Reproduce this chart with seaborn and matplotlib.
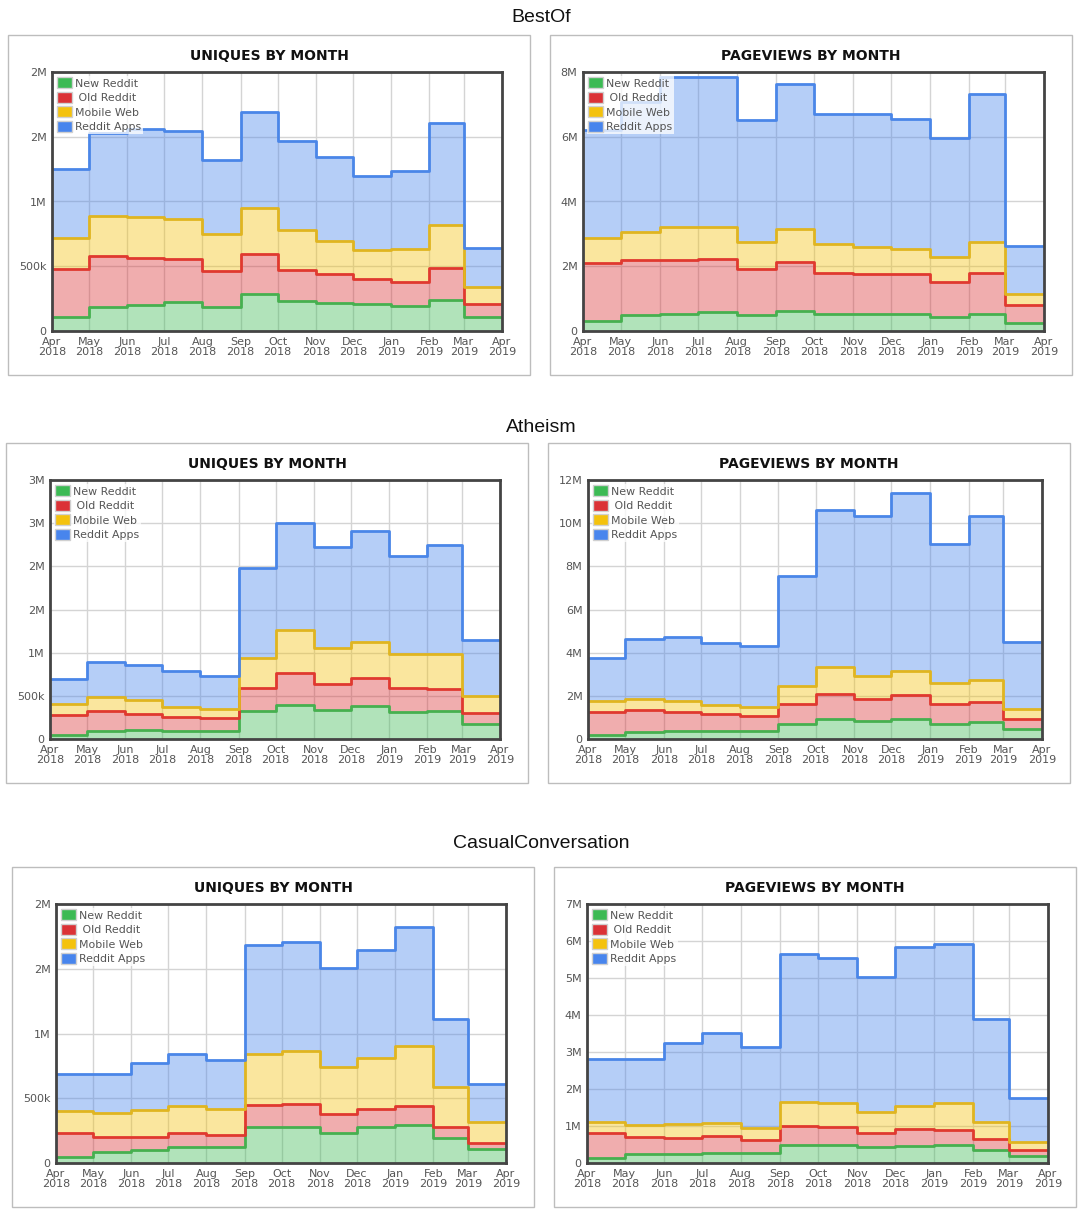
import numpy as np
import pandas as pd
import matplotlib
matplotlib.use("Agg")
import matplotlib.pyplot as plt
import matplotlib.dates as mdates
from matplotlib.patches import Patch, Rectangle
from matplotlib.ticker import FuncFormatter, MultipleLocator
import seaborn as sns

sns.set_style("white")
plt.rcParams['font.family'] = ['DejaVu Sans']

# months (Apr 2018 .. Mar 2019), values per device
months = pd.date_range("2018-04-01", "2019-03-01", freq="MS")
devices = ["New Reddit", " Old Reddit", "Mobile Web", "Reddit Apps"]

# BestOf - uniques (thousands)
bestof_u_new = [108, 186, 201, 227, 188, 284, 229, 219, 206, 193, 240, 108]
bestof_u_old = [371, 394, 361, 330, 278, 311, 240, 219, 196, 186, 247, 98]
bestof_u_mob = [237, 307, 319, 309, 284, 353, 312, 260, 224, 252, 333, 134]
bestof_u_app = [537, 641, 678, 678, 570, 745, 685, 642, 572, 606, 788, 299]
# BestOf - pageviews (millions)
bestof_p_new = [0.32, 0.48, 0.52, 0.58, 0.49, 0.63, 0.54, 0.51, 0.51, 0.43, 0.53, 0.25]
bestof_p_old = [1.78, 1.70, 1.68, 1.65, 1.42, 1.50, 1.25, 1.24, 1.24, 1.09, 1.25, 0.54]
bestof_p_mob = [0.76, 0.88, 1.01, 0.97, 0.85, 1.03, 0.91, 0.85, 0.79, 0.78, 0.96, 0.36]
bestof_p_app = [3.36, 4.00, 4.65, 4.64, 3.77, 4.48, 4.01, 4.11, 4.01, 3.66, 4.58, 1.48]

# Atheism - uniques (thousands)
atheism_u_new = [46, 89, 100, 97, 97, 320, 398, 340, 382, 313, 320, 170]
atheism_u_old = [228, 239, 190, 162, 150, 267, 366, 293, 321, 274, 259, 127]
atheism_u_mob = [135, 162, 162, 112, 104, 355, 499, 417, 421, 394, 406, 201]
atheism_u_app = [286, 402, 401, 421, 375, 1035, 1239, 1170, 1285, 1143, 1266, 653]
# Atheism - pageviews (millions)
atheism_p_new = [0.19, 0.34, 0.36, 0.39, 0.37, 0.71, 0.93, 0.82, 0.93, 0.71, 0.79, 0.45]
atheism_p_old = [1.06, 1.00, 0.88, 0.75, 0.71, 0.90, 1.14, 1.03, 1.11, 0.91, 0.94, 0.46]
atheism_p_mob = [0.51, 0.51, 0.54, 0.42, 0.40, 0.83, 1.25, 1.07, 1.13, 0.96, 1.02, 0.48]
atheism_p_app = [2.01, 2.77, 2.95, 2.91, 2.85, 5.13, 7.30, 7.40, 8.21, 6.46, 7.60, 3.12]

# CasualConversation - uniques (thousands)
casual_u_new = [49, 85, 98, 121, 126, 275, 278, 234, 275, 290, 193, 111]
casual_u_old = [182, 113, 102, 110, 87, 170, 174, 141, 144, 152, 82, 46]
casual_u_mob = [173, 190, 209, 211, 201, 398, 412, 365, 391, 458, 309, 159]
casual_u_app = [285, 298, 362, 399, 383, 838, 840, 764, 833, 920, 527, 296]
# CasualConversation - pageviews (millions)
casual_p_new = [0.14, 0.23, 0.23, 0.28, 0.26, 0.48, 0.48, 0.42, 0.46, 0.49, 0.35, 0.19]
casual_p_old = [0.66, 0.46, 0.45, 0.45, 0.35, 0.52, 0.50, 0.40, 0.45, 0.40, 0.31, 0.15]
casual_p_mob = [0.31, 0.34, 0.37, 0.36, 0.34, 0.65, 0.65, 0.56, 0.62, 0.73, 0.45, 0.22]
casual_p_app = [1.70, 1.78, 2.20, 2.42, 2.18, 4.01, 3.90, 3.66, 4.31, 4.29, 2.79, 1.19]

colors = ["#3cba54", "#db3236", "#f4c20d", "#4885ed"]
line_colors = ["#46b04f", "#e0392f", "#e0b520", "#4a86e8"]

W, H = 1083, 1212
fig = plt.figure(figsize=(W / 100, H / 100), dpi=100)


def yfmt(v, pos):
    if v >= 1e6:
        return f"{int(np.floor(v / 1e6 + 0.5))}M"
    if v >= 1e3:
        return f"{int(round(v / 1e3))}k"
    return "0"


def panel(box, left_off, title, series, scale, ymax, ystep):
    bx0, by0, bx1, by1 = box
    fig.add_artist(Rectangle((bx0 / W, 1 - by1 / H), (bx1 - bx0) / W, (by1 - by0) / H,
                             transform=fig.transFigure, fill=False, ec="#bdbdbd", lw=1))
    fig.text((bx0 + bx1) / 2 / W, 1 - (by0 + 21) / H, title, ha="center", va="center",
             fontsize=10, fontweight="bold", color="#111")
    x0, x1 = bx0 + left_off, bx0 + 494
    y0, y1 = by0 + 37, by0 + 296
    ax = fig.add_axes([x0 / W, 1 - y1 / H, (x1 - x0) / W, (y1 - y0) / H])

    df = pd.DataFrame({d: np.array(s) * scale for d, s in zip(devices, series)}, index=months)
    tops = df.cumsum(axis=1)
    # repeat last month so the step reaches Apr 2019
    edge = pd.Timestamp("2019-04-01")
    tops.loc[edge] = tops.iloc[-1]
    lower = np.zeros(len(tops))
    for i, d in enumerate(devices):
        upper = tops[d].values
        ax.fill_between(tops.index, lower, upper, step="post", color=colors[i],
                        alpha=0.4, lw=0, zorder=2)
        lower = upper
    for i, d in enumerate(devices):
        sns.lineplot(x=tops.index, y=tops[d].values, drawstyle="steps-post",
                     color=line_colors[i], lw=2, ax=ax, zorder=3 + i, legend=False)

    ax.set_xlim(months[0], edge)
    ax.set_ylim(0, ymax)
    ax.yaxis.set_major_locator(MultipleLocator(ystep))
    ax.yaxis.set_major_formatter(FuncFormatter(yfmt))
    ax.xaxis.set_major_locator(mdates.MonthLocator())
    ax.xaxis.set_major_formatter(mdates.DateFormatter("%b\n%Y"))
    ax.grid(True, color="#d4d4d4", lw=1, zorder=0)
    ax.set_axisbelow(True)
    ax.tick_params(length=0, labelsize=8, labelcolor="#555", pad=4)
    ax.set_xlabel("")
    ax.set_ylabel("")
    for t in ax.get_xticklabels():
        t.set_linespacing(1.1)
    for sp in ax.spines.values():
        sp.set_color("#444")
        sp.set_linewidth(2)
        sp.set_zorder(10)

    handles = [Patch(facecolor=c, edgecolor="#d0d0d0", lw=1) for c in colors]
    leg = ax.legend(handles, devices, loc="upper left", fontsize=7.9, frameon=True,
                    framealpha=0.75, edgecolor="none", handlelength=1.35, handleheight=1.15,
                    handletextpad=0.25, labelspacing=0.3, borderpad=0.15, borderaxespad=0.35)
    leg.get_frame().set_boxstyle("square", pad=0)
    leg.set_zorder(20)
    for t in leg.get_texts():
        t.set_color("#555")
    return ax


sections = [
    ("BestOf", 18, (8, 35, 530, 375), (550, 35, 1072, 375), 33,
     [bestof_u_new, bestof_u_old, bestof_u_mob, bestof_u_app], 2e6, 5e5,
     [bestof_p_new, bestof_p_old, bestof_p_mob, bestof_p_app], 8e6, 2e6),
    ("Atheism", 427, (6, 443, 528, 783), (548, 443, 1070, 783), 40,
     [atheism_u_new, atheism_u_old, atheism_u_mob, atheism_u_app], 3e6, 5e5,
     [atheism_p_new, atheism_p_old, atheism_p_mob, atheism_p_app], 12e6, 2e6),
    ("CasualConversation", 843, (12, 867, 534, 1207), (554, 867, 1076, 1207), 33,
     [casual_u_new, casual_u_old, casual_u_mob, casual_u_app], 2e6, 5e5,
     [casual_p_new, casual_p_old, casual_p_mob, casual_p_app], 7e6, 1e6),
]

for name, ty, lbox, rbox, poff, useries, umax, ustep, pseries, pmax, pstep in sections:
    fig.text(541 / W, 1 - ty / H, name, ha="center", va="center", fontsize=14,
             family="Liberation Sans", color="#111")
    panel(lbox, 44, "UNIQUES BY MONTH", useries, 1e3, umax, ustep)
    panel(rbox, poff, "PAGEVIEWS BY MONTH", pseries, 1e6, pmax, pstep)

fig.savefig("out.png", dpi=100, facecolor="white")
